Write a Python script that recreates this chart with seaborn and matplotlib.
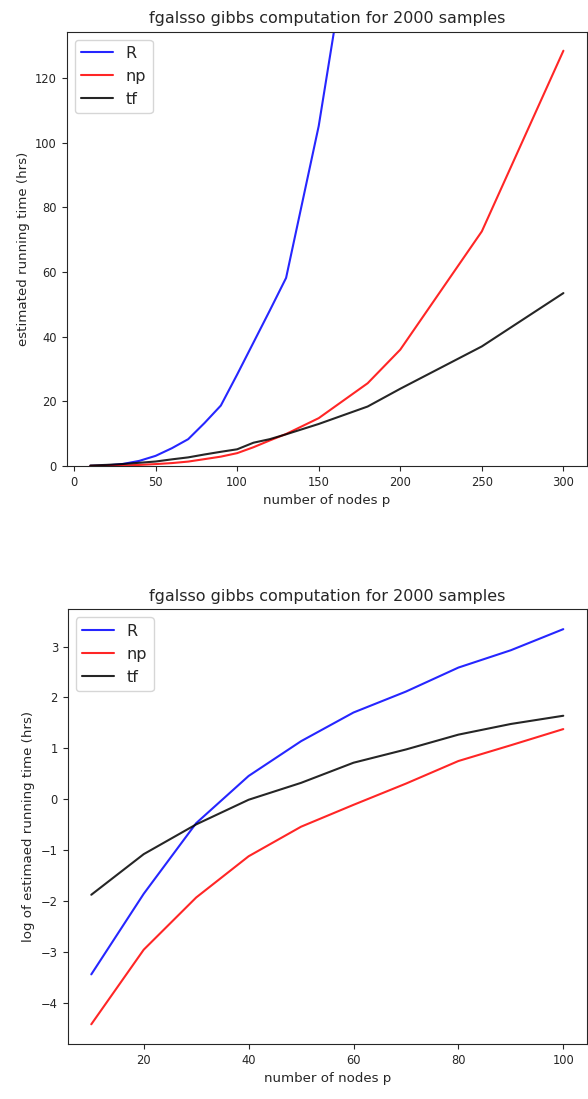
import matplotlib
matplotlib.use("Agg")
import matplotlib.pyplot as plt
import seaborn as sns
import numpy as np

# estimated running time (hrs) per number of nodes p
nodes = [10, 20, 30, 40, 50, 60, 70, 80, 90, 100, 110, 120, 130, 150, 180, 200, 250, 300]
R_hrs = [0.032, 0.156, 0.625, 1.58, 3.13, 5.5, 8.3, 13.3, 18.7, 28.3,
         38.2, 48.1, 58.2, 105.2, 199.0]
np_hrs = [0.012, 0.052, 0.145, 0.326, 0.583, 0.896, 1.36, 2.12, 2.89, 3.97,
          5.8, 7.9, 9.9, 14.8, 25.6, 36.0, 72.6, 128.5]
tf_hrs = [0.153, 0.34, 0.61, 0.99, 1.38, 2.05, 2.66, 3.56, 4.39, 5.16,
          7.2, 8.3, 9.8, 13.0, 18.4, 23.9, 37.0, 53.5]

series = [("R", R_hrs, "#0000ff"), ("np", np_hrs, "#ff0000"), ("tf", tf_hrs, "#000000")]
title = "fgalsso gibbs computation for 2000 samples"

sns.set_theme(style="ticks", rc={
    "axes.labelsize": 9.6,
    "xtick.labelsize": 8.3,
    "ytick.labelsize": 8.3,
    "axes.titlesize": 11.5,
    "legend.fontsize": 11.5,
    "axes.linewidth": 0.8,
    "xtick.major.size": 3.5,
    "ytick.major.size": 3.5,
    "xtick.major.width": 0.8,
    "ytick.major.width": 0.8,
})
plt.rcParams["font.family"] = ["DejaVu Sans"]

fig = plt.figure(figsize=(5.88, 10.99), dpi=100)
ax1 = fig.add_axes([0.1134, 0.576, 0.885, 0.3952])
ax2 = fig.add_axes([0.1151, 0.050, 0.883, 0.3955])

# linear scale
for name, vals, col in series:
    sns.lineplot(x=nodes[:len(vals)], y=vals, color=col, alpha=0.85,
                 linewidth=1.5, label=name, ax=ax1)
ax1.set_ylim(0, 134.4)
ax1.set_xlim(-4.5, 314.5)
ax1.set_title(title)
ax1.set_xlabel("number of nodes p")
ax1.set_ylabel("estimated running time (hrs)")
ax1.legend(loc="upper left")

# log scale, p <= 100
for name, vals, col in series:
    sns.lineplot(x=nodes[:10], y=np.log(vals[:10]), color=col, alpha=0.85,
                 linewidth=1.5, label=name, ax=ax2)
ax2.set_title(title)
ax2.set_xlabel("number of nodes p")
ax2.set_ylabel("log of estimaed running time (hrs)")
ax2.legend(loc="upper left")

fig.savefig("out.png", dpi=100)
